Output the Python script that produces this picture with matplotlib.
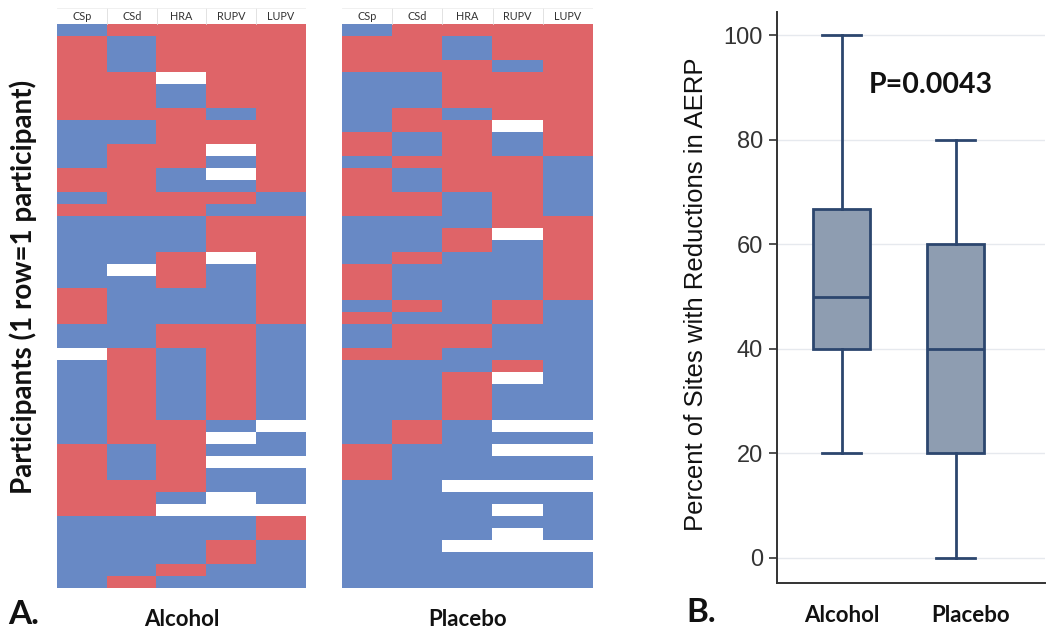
import numpy as np
import matplotlib
matplotlib.use("Agg")
import matplotlib.pyplot as plt
from matplotlib.colors import ListedColormap

# ---------------- data ----------------
sites = ["CSp", "CSd", "HRA", "RUPV", "LUPV"]
groups = ["Alcohol", "Placebo"]

# One character per participant (row 0 = top): R = reduction, B = no reduction, W = missing
alcohol_CSp  = "BRRRRRRRBBBBRRBRBBBBBBRRRBBWBBBBBBBRRRRRRBBBBBB"
alcohol_CSd  = "RBBBRRRRBBRRRRRRBBBBWBBBBBBRRRRRRRRBBBRRRBBBBBR"
alcohol_HRA  = "RRRRWBBRRRRRBBRRBBBRRRBBBRRBBBBBBRRRRRRBWBBBBRB"
alcohol_RUPV = "RRRRRRRBRRWBWBRBRRRWBBBBBRRRRRRRRBWBWBBWWBBRRBB"
alcohol_LUPV = "RRRRRRRRRRRRRRBBRRRRRRRRRBBBBBBBBWBBWBBBWRRBBBB"

placebo_CSp  = "BRRRBBBBBRRBRRRRBBBBRRRBRBBRBBBBBBBRRRBBBBBBBBB"
placebo_CSd  = "RRRRBBBRRBBRBBRRBBBRBBBRBRRRBBBBBRRBBBBBBBBBBBB"
placebo_HRA  = "RBBRRRRBRRRRRRBBBRRBBBBBBRRBBRRRRBBBBBWBBBBWBBB"
placebo_RUPV = "RRRBRRRRWBBRRRRRRWBBBBBRRBBBRWBBBWBWBBWBWBWWBBB"
placebo_LUPV = "RRRRRRRRRRRBBBBBRRRRRRRBBBBBBBBBBWBWBBWBBBBWBBB"

# box plot summary (percent of sites with reductions in AERP)
box_low    = [20, 0]
box_q1     = [40, 20]
box_median = [50, 40]
box_q3     = [66.7, 60]
box_high   = [100, 80]
p_text = "P=0.0043"

# ---------------- style ----------------
RED = "#df6468"
BLUE = "#6889c5"
BOX_FILL = "#8e9db1"
BOX_EDGE = "#2c466e"
CAL = "Lato"
ARIAL = "Liberation Sans"

W, H = 1050, 637
fig = plt.figure(figsize=(W / 100, H / 100), dpi=100)
fig.patch.set_facecolor("white")


def fx(px):
    return px / W


def fy(py):
    return 1 - py / H


code = {"R": 1.0, "B": 0.0, "W": np.nan}


def to_matrix(cols):
    for c in cols:
        assert len(c) == 47, len(c)
    return np.array([[code[ch] for ch in c] for c in cols]).T


cmap = ListedColormap([BLUE, RED])
cmap.set_bad("white")

row_px = 12.0
header_rows = 16.0 / row_px

heat_specs = [
    (groups[0], [alcohol_CSp, alcohol_CSd, alcohol_HRA, alcohol_RUPV, alcohol_LUPV], 57, 306),
    (groups[1], [placebo_CSp, placebo_CSd, placebo_HRA, placebo_RUPV, placebo_LUPV], 342, 593),
]
top_px, bot_px = 8, 588
for name, cols, x0, x1 in heat_specs:
    mat = to_matrix(cols)
    n = mat.shape[0]
    ax = fig.add_axes([fx(x0), fy(bot_px), fx(x1 - x0), (bot_px - top_px) / H])
    ax.imshow(np.ma.masked_invalid(mat), cmap=cmap, vmin=0, vmax=1,
              aspect="auto", interpolation="nearest",
              extent=(0, len(sites), n, 0), zorder=1)
    ax.set_xlim(0, len(sites))
    ax.set_ylim(n, -header_rows)
    ax.axis("off")
    # header separators
    for k in range(1, len(sites)):
        ax.plot([k, k], [-header_rows, 0], color="#dddddd", lw=0.6, zorder=2)
    ax.plot([0, len(sites)], [-header_rows, -header_rows], color="#eeeeee", lw=0.6)
    for k, s in enumerate(sites):
        ax.text(k + 0.5, -header_rows / 2, s, ha="center", va="center",
                fontsize=7.8, family=CAL, color="#333333")
    fig.text(fx((x0 + x1) / 2), fy(620), name, ha="center", va="center",
             fontsize=16, fontweight="bold", family=CAL, color="#111111")

fig.text(fx(8), fy(615), "A.", ha="left", va="center", fontsize=24,
         fontweight="bold", family=CAL, color="#111111")
fig.text(fx(23), fy(287), "Participants (1 row=1 participant)", rotation=90,
         ha="center", va="center", fontsize=20, fontweight="bold", family=CAL,
         color="#111111")

# ---------------- box plot ----------------
axb = fig.add_axes([fx(777), fy(583), fx(1045 - 777), (583 - 12) / H])
stats = []
for i in range(len(groups)):
    stats.append(dict(label=groups[i], whislo=box_low[i], q1=box_q1[i],
                      med=box_median[i], q3=box_q3[i], whishi=box_high[i],
                      fliers=[]))
lw = 2.0
axb.bxp(stats, positions=[1, 2], widths=0.5, patch_artist=True,
        showfliers=False,
        boxprops=dict(facecolor=BOX_FILL, edgecolor=BOX_EDGE, linewidth=lw),
        medianprops=dict(color=BOX_EDGE, linewidth=lw),
        whiskerprops=dict(color=BOX_EDGE, linewidth=lw),
        capprops=dict(color=BOX_EDGE, linewidth=lw), capwidths=0.34)
axb.set_xlim(0.434, 2.78)
axb.set_ylim(-4.85, 104.5)
yt = [0, 20, 40, 60, 80, 100]
axb.set_yticks(yt)
axb.set_yticklabels([str(v) for v in yt], fontsize=17, family=ARIAL, color="#333333")
for v in yt:
    axb.axhline(v, color="#e6e9ee", lw=1.0, zorder=0)
axb.tick_params(axis="y", length=6, width=1.2, color="#333333", pad=4)
axb.set_xticks([])
for s in ["top", "right"]:
    axb.spines[s].set_visible(False)
for s in ["left", "bottom"]:
    axb.spines[s].set_color("#333333")
    axb.spines[s].set_linewidth(1.4)
fig.text(fx(696), fy(294), "Percent of Sites with Reductions in AERP", rotation=90,
         ha="center", va="center", fontsize=18.5, family=ARIAL, color="#111111")
axb.text(1.78, 90.5, p_text, ha="center", va="center", fontsize=20.5,
         fontweight="bold", family=CAL, color="#111111")
label_x = [1.0, 2.13]
for i, g in enumerate(groups):
    axb.text(label_x[i], -0.038, g, transform=axb.get_xaxis_transform(),
             ha="center", va="top", fontsize=16, fontweight="bold", family=CAL,
             color="#111111")
fig.text(fx(686), fy(612), "B.", ha="left", va="center", fontsize=24,
         fontweight="bold", family=CAL, color="#111111")

fig.savefig("out.png", dpi=100, facecolor="white")
